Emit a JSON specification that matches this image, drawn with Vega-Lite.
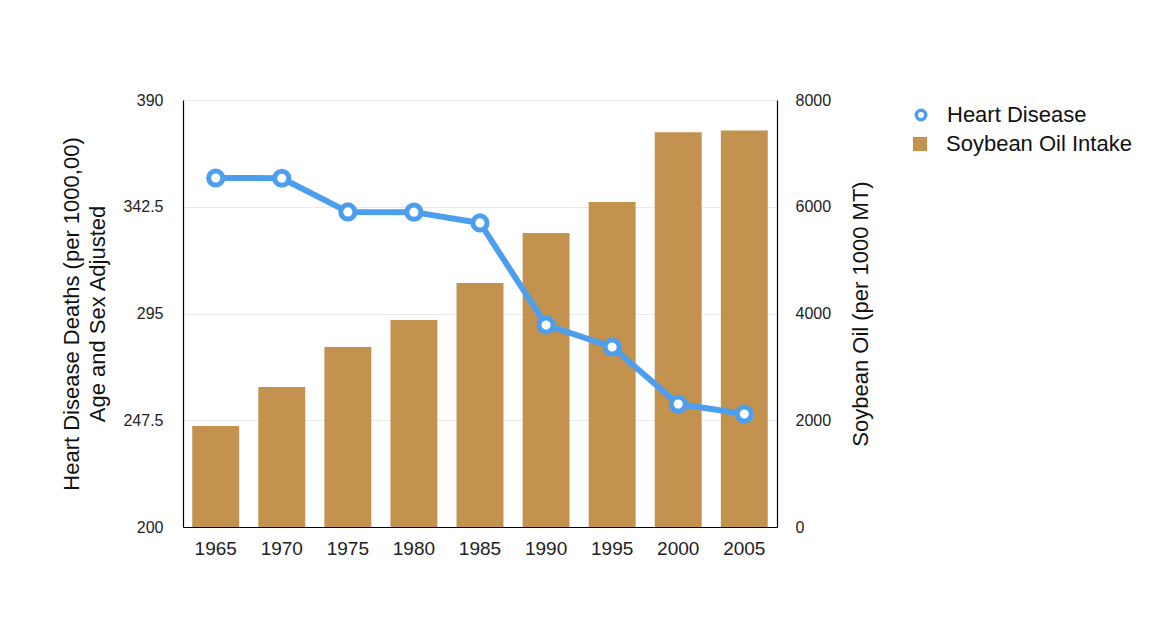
{
  "$schema": "https://vega.github.io/schema/vega-lite/v6.json",
  "width": 594,
  "height": 427,
  "autosize": "none",
  "padding": {"left": 183, "top": 100, "right": 393, "bottom": 105},
  "background": "white",
  "config": {
    "view": {"stroke": null},
    "font": "Liberation Sans",
    "axis": {"labelColor": "#222", "titleColor": "#111", "titleFontWeight": "normal", "ticks": false, "domainColor": "#000", "domainWidth": 1.2},
    "legend": {"labelFontSize": 22, "labelColor": "#111", "labelLimit": 400, "title": null}
  },
  "data": {
    "values": [
      {"year": "1965", "heart": 355.3, "soy": 1893},
      {"year": "1970", "heart": 355.2, "soy": 2623},
      {"year": "1975", "heart": 340.2, "soy": 3373},
      {"year": "1980", "heart": 340.1, "soy": 3879},
      {"year": "1985", "heart": 335.3, "soy": 4572},
      {"year": "1990", "heart": 289.9, "soy": 5509},
      {"year": "1995", "heart": 280.1, "soy": 6091},
      {"year": "2000", "heart": 254.7, "soy": 7397},
      {"year": "2005", "heart": 250.3, "soy": 7427}
    ]
  },
  "encoding": {
    "x": {
      "field": "year",
      "type": "ordinal",
      "scale": {"paddingInner": 0.29, "paddingOuter": 0.14},
      "axis": {"title": null, "labelAngle": 0, "labelFontSize": 19, "labelPadding": 12, "labelColor": "#222"}
    }
  },
  "layer": [
    {
      "mark": {"type": "bar", "opacity": 1},
      "encoding": {
        "y": {
          "field": "soy",
          "type": "quantitative",
          "scale": {"domain": [0, 8000], "nice": false},
          "axis": {
            "orient": "right",
            "title": "Soybean Oil (per 1000 MT)",
            "titleAngle": -90,
            "titleBaseline": "top",
            "titleFontSize": 22,
            "titlePadding": 20,
            "values": [0, 2000, 4000, 6000, 8000],
            "format": "d",
            "labelFontSize": 16,
            "labelPadding": 18,
            "grid": false
          }
        },
        "fill": {
          "datum": "Soybean Oil Intake",
          "scale": {"domain": ["Soybean Oil Intake"], "range": ["#C2924E"]},
          "legend": {
            "orient": "none",
            "legendX": 726,
            "legendY": 33,
            "labelOffset": 15,
            "symbolSize": 200,
            "symbolType": "square",
            "symbolOpacity": 1
          }
        }
      }
    },
    {
      "encoding": {
        "y": {
          "field": "heart",
          "type": "quantitative",
          "scale": {"domain": [200, 390], "nice": false, "zero": false},
          "axis": {
            "orient": "left",
            "title": ["Heart Disease Deaths (per 1000,00)", "Age and Sex Adjusted"],
            "titleFontSize": 22,
            "titleLineHeight": 26,
            "titlePadding": 13,
            "values": [200, 247.5, 295, 342.5, 390],
            "format": ".4~r",
            "labelFontSize": 16,
            "labelPadding": 20,
            "grid": true,
            "gridColor": "#e9e9e9",
            "gridWidth": 1
          }
        },
        "stroke": {
          "datum": "Heart Disease",
          "scale": {"domain": ["Heart Disease"], "range": ["#4E9EEE"]},
          "legend": {
            "orient": "none",
            "legendX": 727,
            "legendY": 4,
            "labelOffset": 15,
            "symbolSize": 90,
            "symbolType": "circle",
            "symbolStrokeWidth": 3.5,
            "symbolFillColor": "#ffffff",
            "symbolOpacity": 1
          }
        }
      },
      "layer": [
        {"mark": {"type": "line", "strokeWidth": 6, "strokeJoin": "round", "strokeCap": "round"}},
        {"mark": {"type": "point", "filled": false, "fill": "white", "size": 200, "strokeWidth": 5, "opacity": 1}}
      ]
    }
  ],
  "resolve": {"scale": {"y": "independent"}}
}
